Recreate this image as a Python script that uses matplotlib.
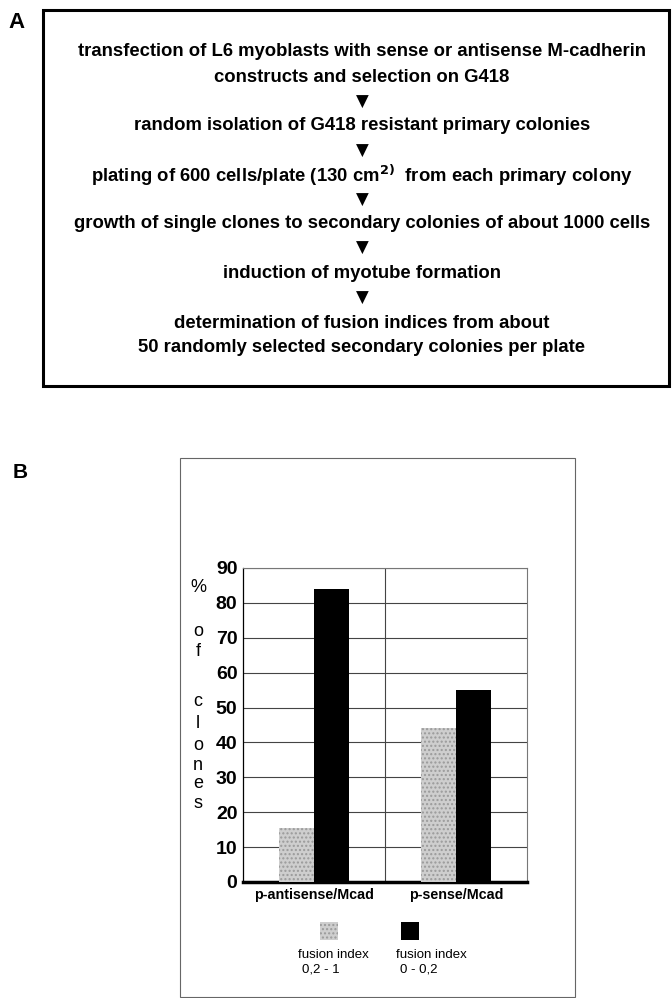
import matplotlib
matplotlib.use("Agg")
import matplotlib.pyplot as plt
from matplotlib.patches import Rectangle

# ---- data ----
categories = ["p-antisense/Mcad", "p-sense/Mcad"]
fusion_high = [15.5, 44.0]   # fusion index 0,2 - 1 (grey)
fusion_low = [84.0, 55.0]    # fusion index 0 - 0,2 (black)
legend_labels = ["fusion index\n0,2 - 1", "fusion index\n0 - 0,2"]
yticks = [0, 10, 20, 30, 40, 50, 60, 70, 80, 90]
ylabel_chars = ["%", "o", "f", "c", "l", "o", "n", "e", "s"]
ylabel_ypix = [588, 632, 651, 702, 723, 746, 765, 783, 803]

flow_steps = [
    "transfection of L6 myoblasts with sense or antisense M-cadherin\nconstructs and selection on G418",
    "random isolation of G418 resistant primary colonies",
    "plating of 600 cells/plate (130 cm$^{\\mathbf{2)}}$  from each primary colony",
    "growth of single clones to secondary colonies of about 1000 cells",
    "induction of myotube formation",
    "determination of fusion indices from about\n50 randomly selected secondary colonies per plate",
]

W, H = 672, 998
fig = plt.figure(figsize=(W / 100, H / 100), dpi=100)
plt.rcParams['font.family'] = ['Liberation Sans', 'DejaVu Sans']

def fx(x):
    return x / W

def fy(y):
    return 1 - y / H

# ---- panel A ----
fig.text(fx(8), fy(23), "A", fontsize=16, fontweight="bold", ha="left", va="center")
fig.add_artist(Rectangle((fx(43), fy(386)), fx(669) - fx(43), fy(10) - fy(386),
                         transform=fig.transFigure, fill=False, lw=2.2, ec="black"))

line_y = [52, 77, 126, 175, 224, 273, 323, 348]
tri_y = [102, 151, 200, 248, 298]
lines = [ln for s in flow_steps for ln in s.split("\n")]
for s, y in zip(lines, line_y):
    fig.text(fx(362), fy(y), s, ha="center", va="center", fontsize=13.3,
             fontweight="bold")
for y in tri_y:
    fig.text(fx(362), fy(y), "\u25BC", ha="center", va="center", fontsize=12,
             family="DejaVu Sans")

# ---- panel B ----
fig.text(fx(13), fy(473), "B", fontsize=15, fontweight="bold", ha="left", va="center")
fig.add_artist(Rectangle((fx(180), fy(997)), fx(575) - fx(180), fy(458) - fy(997),
                         transform=fig.transFigure, fill=False, lw=0.8, ec="#666666"))

ax = fig.add_axes([fx(243), fy(882), fx(527) - fx(243), fy(568) - fy(882)])
x = list(range(len(categories)))
bw = 0.245
ax.bar([i - bw / 2 for i in x], fusion_high, width=bw, color="#cecece",
       edgecolor="#9a9a9a", hatch="....", linewidth=0, zorder=3)
ax.bar([i + bw / 2 for i in x], fusion_low, width=bw, color="black",
       edgecolor="black", linewidth=0, zorder=3)
ax.set_xlim(-0.5, 1.5)
ax.set_ylim(0, 90)
ax.set_yticks(yticks)
ax.set_yticklabels([str(t) for t in yticks], fontsize=14, fontweight="bold")
ax.set_xticks(x)
ax.set_xticklabels(categories, fontsize=10.3, fontweight="bold")
ax.tick_params(axis="y", length=0, pad=4)
ax.tick_params(axis="x", length=0, pad=4)
for t in yticks[1:]:
    ax.axhline(t, color="#444444", lw=0.8, zorder=1)
ax.axvline(0.5, color="#444444", lw=0.8, zorder=1)
for sp in ["top", "right"]:
    ax.spines[sp].set_color("#777777")
    ax.spines[sp].set_linewidth(0.8)
ax.spines["left"].set_linewidth(0.9)
ax.spines["bottom"].set_linewidth(2.5)

for ch, y in zip(ylabel_chars, ylabel_ypix):
    fig.text(fx(198), fy(y), ch, ha="center", va="center", fontsize=13)

# legend
fig.add_artist(Rectangle((fx(320), fy(940)), fx(18), fy(0) - fy(18),
                         transform=fig.transFigure, facecolor="#cecece",
                         edgecolor="#9a9a9a", hatch="....", lw=0))
fig.add_artist(Rectangle((fx(401), fy(940)), fx(18), fy(0) - fy(18),
                         transform=fig.transFigure, facecolor="black", lw=0))
for lab, x0 in zip(legend_labels, [298, 396]):
    l1, l2 = lab.split("\n")
    fig.text(fx(x0), fy(955), l1, ha="left", va="center", fontsize=9.5)
    fig.text(fx(x0 + 4), fy(969), l2, ha="left", va="center", fontsize=9.5)

fig.savefig("out.png", dpi=100)
